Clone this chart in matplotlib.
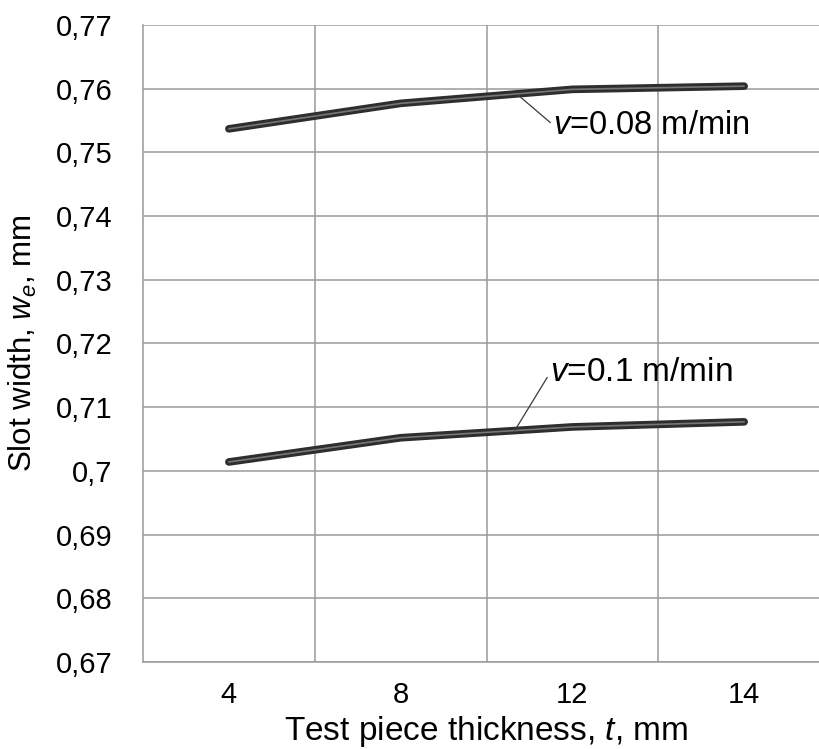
import numpy as np
import matplotlib
matplotlib.use('Agg')
import matplotlib.pyplot as plt
from matplotlib.ticker import FixedLocator, FuncFormatter

plt.rcParams['font.family'] = ['Liberation Sans', 'DejaVu Sans']
plt.rcParams['mathtext.fontset'] = 'custom'
plt.rcParams['mathtext.rm'] = 'Liberation Sans'
plt.rcParams['mathtext.it'] = 'Liberation Sans:italic'

# ── Data ───────────────────────────────────────────────────────────────────────
thickness = ['4', '8', '12', '14']
width_v008 = [0.7537, 0.7577, 0.7599, 0.7604]
width_v01 = [0.7014, 0.7052, 0.7069, 0.7077]
yticks = [0.67, 0.68, 0.69, 0.70, 0.71, 0.72, 0.73, 0.74, 0.75, 0.76, 0.77]

GRID = '#9a9a9a'

fig = plt.figure(figsize=(8.2, 7.49), dpi=100)
# right edge of the plot area runs past the picture, as in the original
ax = fig.add_axes([0.1744, 0.1162, 0.8378, 0.8504])

x = np.arange(len(thickness))
for vals in (width_v008, width_v01):
    ax.plot(x, vals, color='#2e2e2e', lw=5.5, solid_capstyle='round', zorder=3)
    ax.plot(x, vals, color='#777777', lw=1.2, solid_capstyle='round', zorder=4)

ax.set_xlim(-0.5, len(thickness) - 0.5)
ax.set_ylim(yticks[0], yticks[-1])
ax.set_xticks(x)
ax.set_xticklabels(thickness)
ax.xaxis.set_minor_locator(FixedLocator(x[:-1] + 0.5))
ax.yaxis.set_major_locator(FixedLocator(yticks))
ax.yaxis.set_major_formatter(FuncFormatter(lambda v, p: f'{v:g}'.replace('.', ',')))

ax.grid(True, which='minor', axis='x', color=GRID, lw=1.1)
ax.grid(True, which='major', axis='y', color=GRID, lw=1.1)
ax.set_axisbelow(True)
ax.tick_params(which='both', length=0)
ax.tick_params(axis='y', labelsize=21, pad=22)
ax.tick_params(axis='x', labelsize=21, pad=14)

for side in ('top', 'right'):
    ax.spines[side].set_visible(False)
for side in ('left', 'bottom'):
    ax.spines[side].set_color(GRID)
    ax.spines[side].set_linewidth(1.1)

ax.set_xlabel('Test piece thickness, $t$, mm', fontsize=24, labelpad=3)
ax.set_ylabel('Slot width, $w_e$, mm', fontsize=22.5)
ax.yaxis.set_label_coords(-0.151, 0.5)

# ── Labels with leader lines ───────────────────────────────────────────────────
leader = dict(arrowstyle='-', color='#3a3a3a', lw=0.9, shrinkA=0, shrinkB=0,
              relpos=(0, 0.5))
ax.annotate('$v$=0.08 m/min', xy=(1.684, 0.7590), xytext=(1.888, 0.7543),
            fontsize=23.5, ha='left', va='center', arrowprops=leader, zorder=5)
ax.annotate('$v$=0.1 m/min', xy=(1.666, 0.7064), xytext=(1.870, 0.7154),
            fontsize=24, ha='left', va='center', arrowprops=leader, zorder=5)

fig.savefig('out.png', dpi=100)
